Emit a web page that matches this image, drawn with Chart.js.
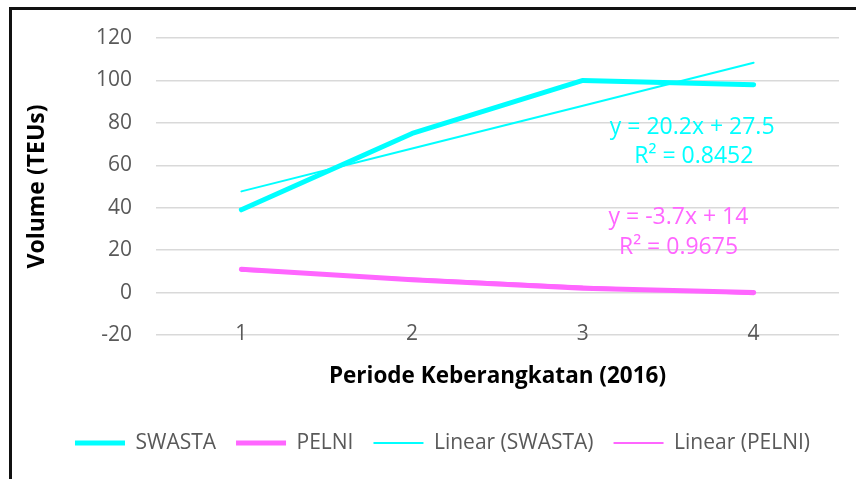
<!DOCTYPE html>
<html>
<head>
<meta charset="utf-8">
<script src="https://cdn.jsdelivr.net/npm/chart.js@4.4.1/dist/chart.umd.min.js"></script>
<style>
  html, body { margin: 0; padding: 0; background: #fff; }
  #wrap { position: relative; width: 856px; height: 479px; overflow: hidden; }
  #frame { position: absolute; left: 9px; top: 7px; right: -10px; bottom: -10px;
           border-top: 3px solid #111; border-left: 3px solid #111; }
  #chart { position: absolute; left: 0; top: 0; }
</style>
</head>
<body>
<div id="wrap">
  <div id="frame"></div>
  <canvas id="chart" width="856" height="479"></canvas>
</div>
<script>
const periods = ['1', '2', '3', '4'];
const swasta = [39, 75, 100, 98];
const pelni = [11, 6, 2, 0];
// trendlines as shown by the equations on the chart
const swastaTrend = [47.7, 67.9, 88.1, 108.3];
const pelniTrend = [10.3, 6.6, 2.9, -0.8];
const swastaEq = ['y = 20.2x + 27.5', 'R² = 0.8452'];
const pelniEq = ['y = -3.7x + 14', 'R² = 0.9675'];

const cyan = '#00FFFF';
const pink = '#FF66FF';
const grey = '#595959';
const font = 'Open Sans';

const lineBase = {
    pointRadius: 0,
    pointHoverRadius: 0,
    tension: 0,
    fill: false,
    borderCapStyle: 'round',
    borderJoinStyle: 'round'
}

// equation labels, placed in data units (x = category index)
const eqPlugin = {
    id: 'eqLabels',
    afterDatasetsDraw(chart) {
        const {ctx, scales: {x, y}} = chart;
        ctx.save();
        ctx.font = '23px "' + font + '"';
        ctx.textAlign = 'center';
        ctx.textBaseline = 'middle';
        ctx.fillStyle = cyan;
        ctx.fillText(swastaEq[0], x.getPixelForValue(2.64), y.getPixelForValue(78));
        ctx.fillText(swastaEq[1], x.getPixelForValue(2.65), y.getPixelForValue(64));
        ctx.fillStyle = pink;
        ctx.fillText(pelniEq[0], x.getPixelForValue(2.56), y.getPixelForValue(35.4));
        ctx.fillText(pelniEq[1], x.getPixelForValue(2.56), y.getPixelForValue(21.2));
        ctx.restore();
    }
}

const legendShift = {
    id: 'legendShift',
    afterLayout(chart) {
        chart.legend.left += 17;
        chart.legend.right += 17;
    }
}

new Chart(document.getElementById('chart'), {
    type: 'line',
    data: {
        labels: periods,
        datasets: [
            {...lineBase, label: 'SWASTA', data: swasta, borderColor: cyan, backgroundColor: cyan, borderWidth: 5},
            {...lineBase, label: 'PELNI', data: pelni, borderColor: pink, backgroundColor: pink, borderWidth: 5},
            {...lineBase, label: 'Linear (SWASTA)', data: swastaTrend, borderColor: cyan, backgroundColor: cyan, borderWidth: 2},
            {...lineBase, label: 'Linear (PELNI)', data: pelniTrend, borderColor: pink, backgroundColor: pink, borderWidth: 2}
        ]
    },
    options: {
        responsive: false,
        animation: false,
        layout: { padding: { left: 12, right: 17, top: 38, bottom: 15.5 } },
        plugins: {
            legend: {
                position: 'bottom',
                labels: {
                    usePointStyle: true,
                    pointStyle: 'line',
                    pointStyleWidth: 50,
                    padding: 20,
                    color: grey,
                    font: { family: font, size: 21 }
                }
            },
            tooltip: { enabled: false }
        },
        scales: {
            x: {
                offset: true,
                grid: { display: false, drawTicks: false },
                border: { display: false },
                ticks: { color: grey, mirror: true, padding: -12, font: { family: font, size: 21 } },
                title: {
                    display: true,
                    text: 'Periode Keberangkatan (2016)',
                    color: '#000',
                    font: { family: font, size: 22.5, weight: 'bold' },
                    padding: { top: 0, bottom: 22 }
                },
                afterFit: (scale) => { scale.height = 77.5; }
            },
            y: {
                min: -20,
                max: 120,
                ticks: { stepSize: 20, color: grey, padding: 24, font: { family: font, size: 21 } },
                grid: { color: '#D9D9D9', lineWidth: 1.5, drawTicks: false },
                border: { display: false },
                title: {
                    display: true,
                    text: 'Volume (TEUs)',
                    color: '#000',
                    font: { family: font, size: 23, weight: 'bold' },
                    padding: { top: 11.2, bottom: 0 }
                },
                afterFit: (scale) => { scale.width = 144; }
            }
        }
    },
    plugins: [eqPlugin, legendShift]
});
</script>
</body>
</html>
